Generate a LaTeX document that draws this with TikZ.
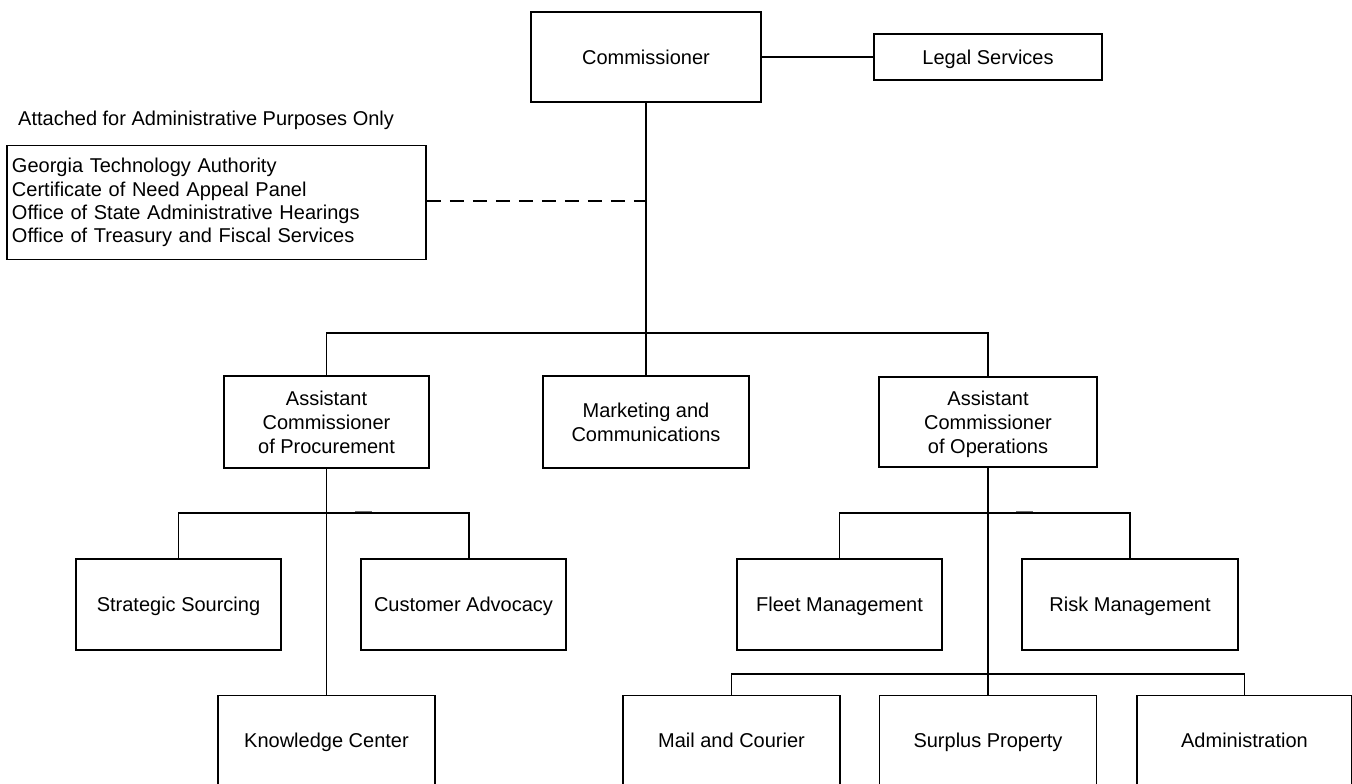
\documentclass[tikz,border=0pt]{standalone}
\usepackage{fontspec}
\setmainfont{Liberation Sans}
\usetikzlibrary{calc}
\begin{document}
\begin{tikzpicture}[x=1pt,y=-1pt,
  frame/.style={draw, line width=1.7pt, align=center, inner sep=0pt, font={\fontsize{20}{24}\selectfont}},
  box/.style={frame, text depth=0pt},
  link/.style={line width=1.6pt},
  artifact/.style={line width=1.6pt, black!55},
]
\useasboundingbox (0,0) rectangle (1352,784);
\clip (0,0) rectangle (1352,784);
\fill[white] (0,0) rectangle (1352,784);

% top level
\node[box, minimum width=230pt, minimum height=90pt] (comm) at (646,57) {Commissioner};
\node[box, minimum width=228pt, minimum height=46pt] (legal) at (988,57) {Legal Services};

\node[anchor=base west, inner sep=0pt, font={\fontsize{20}{24}\selectfont}] (attlabel) at (18,125) {Attached for Administrative Purposes Only};
\node[frame, align=left, text width=409pt, inner xsep=5pt, inner ysep=0pt, minimum height=114pt,
      font={\fontsize{20}{23.3}\selectfont}] (agencies) at (216.5,202.5)
  {Georgia Technology Authority\\Certificate of Need Appeal Panel\\Office of State Administrative Hearings\\Office of Treasury and Fiscal Services};

% second level
\node[box, minimum width=205pt, minimum height=92pt] (proc) at (326.5,422) {Assistant\\Commissioner\\of Procurement};
\node[box, minimum width=206pt, minimum height=92pt] (mkt) at (646,422) {Marketing and\\Communications};
\node[box, minimum width=218pt, minimum height=90pt] (ops) at (988,422) {Assistant\\Commissioner\\of Operations};

% third level
\node[box, minimum width=205pt, minimum height=91pt] (ss) at (178.5,604.5) {Strategic Sourcing};
\node[box, minimum width=205pt, minimum height=91pt] (ca) at (463.5,604.5) {Customer Advocacy};
\node[box, minimum width=205pt, minimum height=91pt] (fm) at (839.5,604.5) {Fleet Management};
\node[box, minimum width=216pt, minimum height=91pt] (risk) at (1130,604.5) {Risk Management};

% bottom level
\node[box, minimum width=217pt, minimum height=90pt] (kc) at (326.5,740.5) {Knowledge Center};
\node[box, minimum width=217pt, minimum height=90pt] (mc) at (731.5,740.5) {Mail and Courier};
\node[box, minimum width=217pt, minimum height=90pt] (sp) at (988,740.5) {Surplus Property};
\node[box, minimum width=215pt, minimum height=90pt] (adm) at (1244.5,740.5) {Administration};

% helper coordinates
\coordinate (cbus) at (646,333);
\coordinate (dashend) at (646,201);
\coordinate (cax) at (469,0);
\coordinate (obus) at (988,513);
\coordinate (bbus) at (988,674);

% connectors
\draw[link] (comm.east) -- (legal.west);
\draw[link] (comm.south) -- (cbus);
\draw[link] (proc.north) |- (ops.north |- cbus) -- (ops.north);
\draw[link] (mkt.north) -- (mkt.north |- cbus);
\draw[link, dash pattern=on 14pt off 9pt] (agencies.east |- dashend) -- (dashend);

\draw[link] (proc.south) -- (kc.north);
\draw[link] (ss.north) |- (469,513) -- (ca.north -| cax);
\draw[artifact] (355,511.5) -- (372,511.5);

\draw[link] (ops.south) -- (sp.north);
\draw[link] (fm.north) |- (risk.north |- obus) -- (risk.north);
\draw[artifact] (1016,511.5) -- (1033,511.5);
\draw[link] (mc.north) |- (adm.north |- bbus) -- (adm.north);
\end{tikzpicture}
\end{document}
